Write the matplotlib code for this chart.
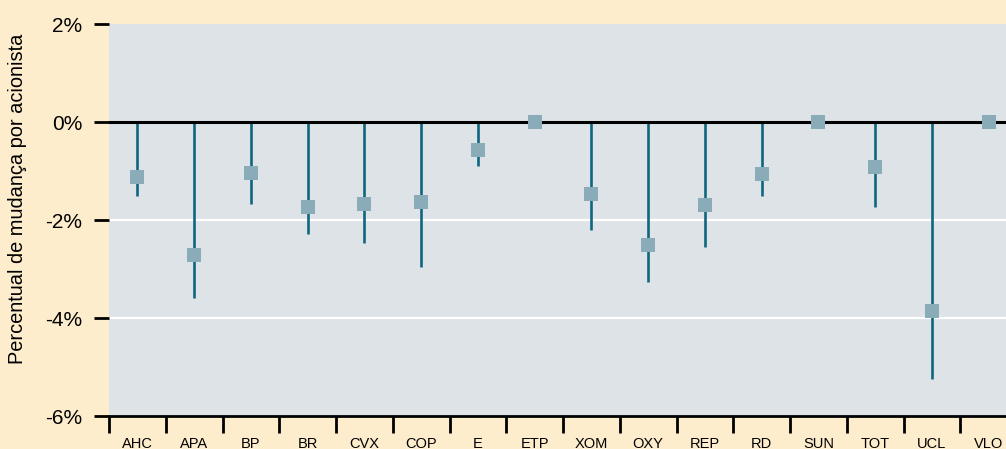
import matplotlib
matplotlib.use("Agg")
import matplotlib.pyplot as plt
import numpy as np

tickers = ["AHC", "APA", "BP", "BR", "CVX", "COP", "E", "ETP", "XOM", "OXY",
           "REP", "RD", "SUN", "TOT", "UCL", "VLO"]
mean_change = [-1.13, -2.71, -1.05, -1.73, -1.67, -1.63, -0.57, 0.0, -1.47, -2.52,
               -1.69, -1.06, 0.0, -0.92, -3.85, 0.0]
low_change = [-1.50, -3.59, -1.68, -2.29, -2.47, -2.95, -0.90, 0.0, -2.20, -3.27,
              -2.56, -1.50, 0.0, -1.74, -5.25, 0.0]
y_ticks = [-6, -4, -2, 0, 2]
y_label = "Percentual de mudança por acionista"

plt.rcParams['font.family'] = ['Liberation Sans', 'DejaVu Sans']

fig = plt.figure(figsize=(10.06, 4.49), dpi=100)
fig.patch.set_facecolor("#FEEDCD")
ax = fig.add_axes([109/1006, 1-416/449, 908/1006, 392/449])
ax.set_facecolor("#DEE3E7")

x = np.arange(len(tickers))
ax.set_xlim(-0.5, len(tickers) - 0.5)
ax.set_ylim(-6, 2)

for yv in [-4, -2]:
    ax.axhline(yv, color="white", lw=1.6, zorder=1)

for xi, lo in zip(x, low_change):
    if lo != 0:
        ax.plot([xi, xi], [0, lo], color="#0F6680", lw=1.9, solid_capstyle="butt", zorder=2)
ax.axhline(0, color="black", lw=2.2, zorder=3)
ax.plot(x, mean_change, ls="none", marker="s", ms=10.5, color="#8AABB8",
        markeredgewidth=0, zorder=4)

for s in ["top", "right", "left"]:
    ax.spines[s].set_visible(False)
ax.spines["bottom"].set_linewidth(2)
ax.spines["bottom"].set_color("black")

ax.set_yticks(y_ticks)
ax.set_yticklabels([f"{v}%" for v in y_ticks], fontsize=15)
ax.tick_params(axis="y", length=11, width=2, pad=8, color="black")

ax.set_xticks(np.arange(len(tickers) + 1) - 0.5, minor=False)
ax.set_xticklabels([])
ax.set_xticks(x, minor=True)
ax.set_xticklabels(tickers, minor=True, fontsize=10.5)
ax.tick_params(axis="x", which="major", length=12, width=2, color="black")
ax.tick_params(axis="x", which="minor", length=0, pad=15)

fig.text(18/1006, 1-199/449, y_label, rotation=90, ha="center", va="center",
         fontsize=14.4)

fig.savefig("out.png", dpi=100, facecolor=fig.get_facecolor())
